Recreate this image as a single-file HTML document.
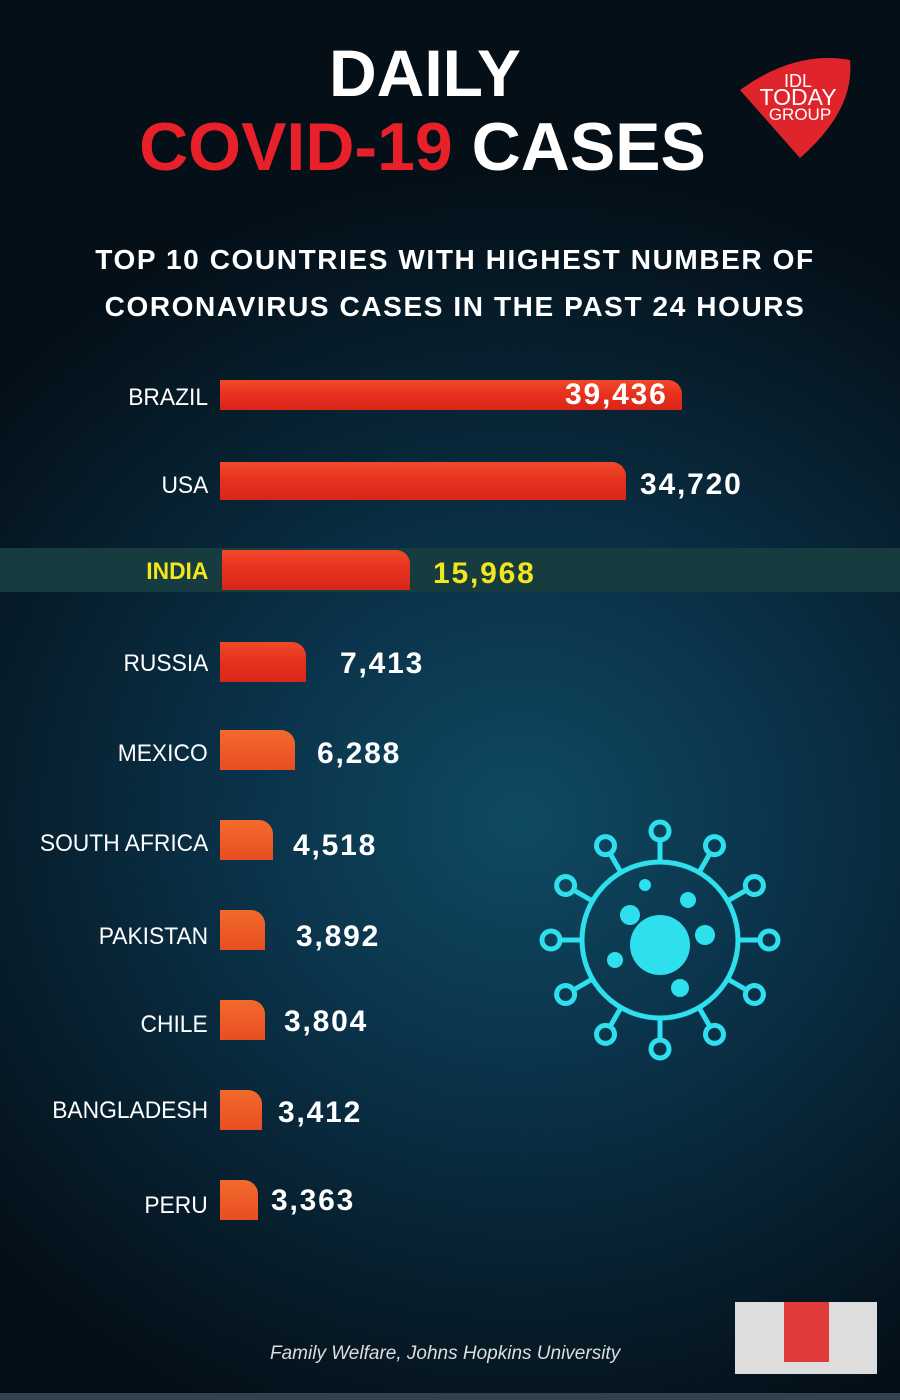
<!DOCTYPE html>
<html><head><meta charset="utf-8"><style>
body{margin:0;width:900px;height:1400px;overflow:hidden;font-family:"Liberation Sans",sans-serif;
background:radial-gradient(ellipse 700px 650px at 520px 820px,#0f4a62 0%,#0a3249 40%,#07202f 70%,#040f18 100%);position:relative}
.a{position:absolute}
.t1{left:0;width:850px;text-align:center;top:35px;font-size:66px;font-weight:bold;color:#fff}
.t2{left:0;width:845px;text-align:center;top:108px;font-size:68px;font-weight:bold;color:#fff}
.sub{left:0;width:910px;text-align:center;font-size:28px;font-weight:bold;color:#fff;letter-spacing:1.6px}
.lab{right:692px;font-size:24px;color:#fff;text-align:right;white-space:nowrap;transform:scaleX(.95);transform-origin:right}
.bar{left:220px;background:linear-gradient(#f04a2a,#e8321e 45%,#d9261a);border-radius:0 14px 0 0}
.val{font-size:30px;font-weight:bold;color:#fff;letter-spacing:1.8px}
</style></head><body>
<div class="a" style="left:0;top:548px;width:900px;height:44px;background:#163c40"></div>
<div class="a t1">DAILY</div>
<div class="a t2"><span style="color:#e8202a">COVID-19</span> CASES</div>
<svg class="a" style="left:735px;top:50px" width="120" height="110"><path d="M5 40 Q60 0 115 10 Q120 60 65 108 Z" fill="#e0242c"/>
<text x="63" y="37" font-size="18" fill="#fff" text-anchor="middle" font-family="Liberation Sans">IDL</text>
<text x="63" y="55" font-size="23" fill="#fff" text-anchor="middle" font-family="Liberation Sans">TODAY</text>
<text x="65" y="70" font-size="17" fill="#fff" text-anchor="middle" font-family="Liberation Sans">GROUP</text></svg>
<div class="a sub" style="top:244px">TOP 10 COUNTRIES WITH HIGHEST NUMBER OF</div>
<div class="a sub" style="top:291px">CORONAVIRUS CASES IN THE PAST 24 HOURS</div>

<div class="a lab" style="top:384px">BRAZIL</div><div class="a bar" style="top:380px;width:462px;height:30px"></div><div class="a val" style="left:565px;top:378px">39,436</div>
<div class="a lab" style="top:472px">USA</div><div class="a bar" style="top:462px;width:406px;height:38px"></div><div class="a val" style="left:640px;top:468px">34,720</div>
<div class="a lab" style="top:558px;color:#f2e61c;font-weight:bold">INDIA</div><div class="a bar" style="top:550px;left:222px;width:188px;height:40px"></div><div class="a val" style="left:433px;top:557px;color:#f2e61c">15,968</div>
<div class="a lab" style="top:650px">RUSSIA</div><div class="a bar" style="top:642px;width:86px;height:40px"></div><div class="a val" style="left:340px;top:647px">7,413</div>
<div class="a lab" style="top:740px">MEXICO</div><div class="a bar" style="top:730px;width:75px;height:40px;background:linear-gradient(#f26a2c,#e84e22)"></div><div class="a val" style="left:317px;top:737px">6,288</div>
<div class="a lab" style="top:830px">SOUTH AFRICA</div><div class="a bar" style="top:820px;width:53px;height:40px;background:linear-gradient(#f26a2c,#e84e22)"></div><div class="a val" style="left:293px;top:829px">4,518</div>
<div class="a lab" style="top:923px">PAKISTAN</div><div class="a bar" style="top:910px;width:45px;height:40px;background:linear-gradient(#f26a2c,#e84e22)"></div><div class="a val" style="left:296px;top:920px">3,892</div>
<div class="a lab" style="top:1011px">CHILE</div><div class="a bar" style="top:1000px;width:45px;height:40px;background:linear-gradient(#f26a2c,#e84e22)"></div><div class="a val" style="left:284px;top:1005px">3,804</div>
<div class="a lab" style="top:1097px">BANGLADESH</div><div class="a bar" style="top:1090px;width:42px;height:40px;background:linear-gradient(#f26a2c,#e84e22)"></div><div class="a val" style="left:278px;top:1096px">3,412</div>
<div class="a lab" style="top:1192px">PERU</div><div class="a bar" style="top:1180px;width:38px;height:40px;background:linear-gradient(#f26a2c,#e84e22)"></div><div class="a val" style="left:271px;top:1184px">3,363</div>

<svg class="a" style="left:535px;top:815px" width="250" height="250" viewBox="-125 -125 250 250">
<g fill="none" stroke="#2ee0ee" stroke-width="5">
<circle r="78"/>
<g id="s"><line x1="0" y1="-78" x2="0" y2="-100"/><circle cx="0" cy="-109" r="9"/></g>
<use href="#s" transform="rotate(30)"/><use href="#s" transform="rotate(60)"/><use href="#s" transform="rotate(90)"/>
<use href="#s" transform="rotate(120)"/><use href="#s" transform="rotate(150)"/><use href="#s" transform="rotate(180)"/>
<use href="#s" transform="rotate(210)"/><use href="#s" transform="rotate(240)"/><use href="#s" transform="rotate(270)"/>
<use href="#s" transform="rotate(300)"/><use href="#s" transform="rotate(330)"/>
</g>
<g fill="#2ee0ee"><circle cx="0" cy="5" r="30"/><circle cx="-30" cy="-25" r="10"/><circle cx="28" cy="-40" r="8"/><circle cx="45" cy="-5" r="10"/><circle cx="-45" cy="20" r="8"/><circle cx="20" cy="48" r="9"/><circle cx="-15" cy="-55" r="6"/></g>
</svg>

<div class="a" style="left:270px;top:1343px;font-size:19px;font-style:italic;color:#ddd">Family Welfare, Johns Hopkins University</div>
<div class="a" style="left:735px;top:1302px;width:142px;height:72px;background:#ddd"><div style="margin:0 auto;width:45px;height:60px;background:#e03a3a"></div></div>
<div class="a" style="left:0;top:1393px;width:900px;height:7px;background:#33414c"></div>
</body></html>
